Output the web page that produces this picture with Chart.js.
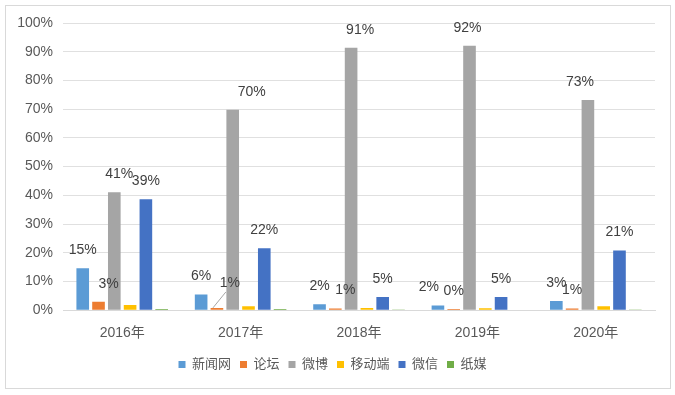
<!DOCTYPE html>
<html>
<head>
<meta charset="utf-8">
<script src="https://cdn.jsdelivr.net/npm/chart.js@4"></script>
<style>
  html, body { margin: 0; padding: 0; background: #fff; }
  #wrap { position: relative; width: 675px; height: 395px; }
  #frame { position: absolute; left: 5px; top: 5px; width: 664px; height: 382px; border: 1px solid #d9d9d9; pointer-events: none; }
  canvas { position: absolute; left: 0; top: 0; }
</style>
</head>
<body>
<div id="wrap">
  <canvas id="chart" width="675" height="395"></canvas>
  <div id="frame"></div>
</div>
<script>
const years = ["2016年", "2017年", "2018年", "2019年", "2020年"];
const seriesNames = ["新闻网", "论坛", "微博", "移动端", "微信", "纸媒"];
const news   = [14.6, 5.5, 2.1, 1.6, 3.2];
const forum  = [2.9, 0.8, 0.6, 0.4, 0.6];
const weibo  = [41.1, 69.8, 91.4, 92.1, 73.2];
const mobile = [1.8, 1.4, 0.8, 0.7, 1.4];
const wechat = [38.6, 21.6, 4.6, 4.6, 20.8];
const paper  = [0.4, 0.4, 0.1, 0.0, 0.1];
const yTicks = [0, 10, 20, 30, 40, 50, 60, 70, 80, 90, 100];

const colors = ["#5B9BD5", "#ED7D31", "#A5A5A5", "#FFC000", "#4472C4", "#70AD47"];
const values = [news, forum, weibo, mobile, wechat, paper];
// which series carry a value label
const labelled = [true, true, true, false, true, false];

const FONT = "'Liberation Sans', 'Noto Sans CJK SC', Arial, sans-serif";

// small nudges where labels were moved by hand in the original
const labelNudge = {
  "1-0": [10, 0], "2-0": [5, 0],
  "1-1": [13, -7, true], "2-1": [19, 0],
  "1-2": [10, 0], "2-2": [9, 0],
  "0-3": [-9, 0], "2-3": [-2, 0],
  "2-4": [-8, 0]
};

const valueLabels = {
  id: "valueLabels",
  afterDatasetsDraw(chart) {
    const ctx = chart.ctx;
    ctx.save();
    ctx.font = "14px " + FONT;
    ctx.fillStyle = "#404040";
    ctx.textAlign = "center";
    ctx.textBaseline = "middle";
    chart.data.datasets.forEach((ds, di) => {
      if (!labelled[di]) return;
      chart.getDatasetMeta(di).data.forEach((bar, i) => {
        const n = labelNudge[di + "-" + i] || [0, 0];
        const x = bar.x + n[0];
        const y = bar.y - 18 + n[1];
        if (n[2]) {
          ctx.strokeStyle = "#a6a6a6";
          ctx.lineWidth = 1;
          ctx.beginPath();
          ctx.moveTo(bar.x - 4, bar.y);
          ctx.lineTo(x - 4, y + 9);
          ctx.stroke();
        }
        ctx.fillText(Math.round(ds.data[i]) + "%", x, y);
      });
    });
    ctx.restore();
  }
};

function initChart() {
  const el = document.getElementById("chart");
  new Chart(el, {
    type: "bar",
    data: {
      labels: years,
      datasets: seriesNames.map((name, i) => ({
        label: name,
        data: values[i],
        backgroundColor: colors[i],
        categoryPercentage: 0.8,
        barPercentage: 0.8
      }))
    },
    options: {
      responsive: false,
      animation: false,
      layout: { padding: { left: 10, right: 20, top: 23, bottom: 14 } },
      plugins: {
        legend: {
          position: "bottom",
          labels: {
            boxWidth: 7,
            boxHeight: 7,
            padding: 9,
            color: "#595959",
            font: { size: 13, family: FONT }
          }
        },
        tooltip: { enabled: false }
      },
      scales: {
        x: {
          grid: { display: false },
          border: { color: "#d9d9d9" },
          ticks: { color: "#595959", padding: 7, font: { size: 14, family: FONT } }
        },
        y: {
          min: 0,
          max: 100,
          afterFit(scale) { scale.width = 53; },
          afterBuildTicks(scale) { scale.ticks = yTicks.map(v => ({ value: v })); },
          grid: { color: "#e0e0e0", drawTicks: false },
          border: { display: false },
          ticks: {
            color: "#595959",
            padding: 10,
            font: { size: 14, family: FONT },
            callback: v => v + "%"
          }
        }
      }
    },
    plugins: [valueLabels]
  });
}

document.addEventListener("DOMContentLoaded", initChart);
</script>
</body>
</html>
